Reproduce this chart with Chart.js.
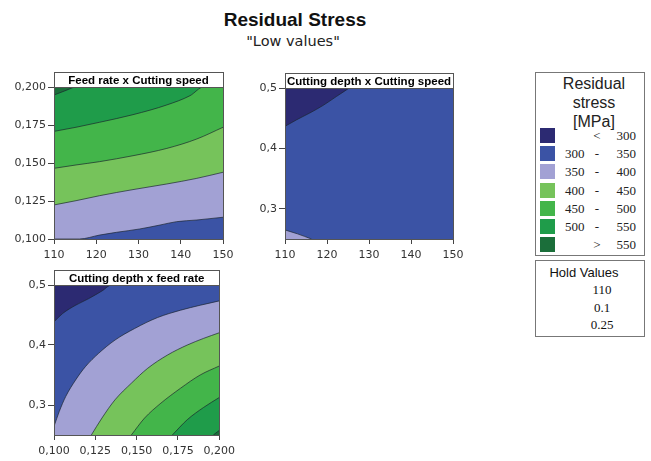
<!DOCTYPE html>
<html>
<head>
<meta charset="utf-8">
<script src="https://cdn.jsdelivr.net/npm/chart.js@4/dist/chart.umd.min.js"></script>
<style>
body { margin:0; width:651px; height:461px; background:#fff; position:relative; overflow:hidden; font-family:"Liberation Sans", Arial, sans-serif; color:#111; }
.cv { position:absolute; }
#title { position:absolute; left:145px; width:300px; top:9px; text-align:center; font:bold 19px "Liberation Sans", Arial, sans-serif; }
#subtitle { position:absolute; left:143px; width:300px; top:33px; text-align:center; font:14.5px "DejaVu Sans", sans-serif; color:#222; }
#legend { position:absolute; left:535px; top:72px; width:110px; height:184px; border:1px solid #777; box-sizing:border-box; }
#legend .head { position:absolute; left:8px; right:0; top:1px; text-align:center; font:16px "Liberation Sans", Arial, sans-serif; line-height:19px; color:#222; }
#legend .row { position:absolute; left:0; width:108px; height:15px; font:13px "Liberation Serif", serif; color:#222; }
#legend .sw { position:absolute; left:4px; top:0; width:15px; height:15px; }
#legend .lo { position:absolute; left:29px; top:0; line-height:15px; }
#legend .sym { position:absolute; left:55px; width:12px; text-align:center; top:0; line-height:15px; }
#legend .hi { position:absolute; right:8px; top:0; line-height:15px; }
#hold { position:absolute; left:535px; top:260px; width:110px; height:77px; border:1px solid #777; box-sizing:border-box; }
#hold div { position:absolute; left:0; width:100%; text-align:center; }
</style>
</head>
<body>
<div id="title">Residual Stress</div>
<div id="subtitle">"Low values"</div>
<canvas id="p1" class="cv" width="240" height="210" style="left:0;top:60px"></canvas>
<canvas id="p2" class="cv" width="240" height="210" style="left:240px;top:60px"></canvas>
<canvas id="p3" class="cv" width="240" height="206" style="left:0;top:255px"></canvas>
<div id="legend"></div>
<div id="hold"></div>
<script>
/*** Data ***/
const speedTicks = [110, 120, 130, 140, 150];
const feedTicks = [0.100, 0.125, 0.150, 0.175, 0.200];
const depthTicks = [0.3, 0.4, 0.5];
const levelLow = ['', '300', '350', '400', '450', '500', ''];
const levelSym = ['<', '-', '-', '-', '-', '-', '>'];
const levelHigh = ['300', '350', '400', '450', '500', '550', '550'];
const holdLabels = ['110', '0.1', '0.25'];

// Feed rate x Cutting speed  [speed, feed]
const fs350 = [[110, 0.1], [116, 0.1], [120.8, 0.1026], [124.8, 0.1044], [130.3, 0.1066], [135.1, 0.1092], [139, 0.1114], [143.8, 0.1125], [150, 0.1143]];
const fs400 = [[110, 0.1224], [115.2, 0.1252], [120.8, 0.1285], [128.7, 0.1325], [136.7, 0.1362], [143.8, 0.1399], [150, 0.1439]];
const fs450 = [[110, 0.1465], [115.2, 0.1487], [120.8, 0.1509], [128.7, 0.1548], [136.7, 0.1596], [143.8, 0.1658], [150, 0.1735]];
const fs500 = [[110, 0.1708], [115.2, 0.1735], [120.8, 0.1768], [128.7, 0.1818], [136.7, 0.1882], [142.2, 0.1943], [145.4, 0.2], [150, 0.2]];
const fs550 = [[110, 0.1947], [112.5, 0.1974], [114.8, 0.2]];

// Cutting depth x Cutting speed  [speed, depth]
const ds300 = [[110, 0.4365], [112.8, 0.4475], [115.9, 0.4586], [119.1, 0.4713], [122.3, 0.4862], [125.3, 0.5]];
const ds350 = [[110, 0.265], [113, 0.2585], [116.3, 0.25]];

// Cutting depth x feed rate  [feed, depth]
const df300 = [[0.1, 0.4386], [0.1052, 0.4524], [0.1131, 0.4663], [0.121, 0.4773], [0.129, 0.49], [0.1349, 0.5], [0.2, 0.5]];
const df350 = [[0.1, 0.2644], [0.1032, 0.2893], [0.1071, 0.3142], [0.1131, 0.3418], [0.119, 0.3639], [0.127, 0.3861], [0.1369, 0.4082], [0.1488, 0.4275], [0.1627, 0.4458], [0.1766, 0.458], [0.1885, 0.4663], [0.2, 0.4735]];
const df400 = [[0.1226, 0.25], [0.129, 0.2782], [0.1369, 0.3086], [0.1468, 0.3363], [0.1567, 0.3612], [0.1687, 0.3833], [0.1806, 0.3999], [0.1905, 0.411], [0.2, 0.4204]];
const df450 = [[0.1468, 0.25], [0.1548, 0.2782], [0.1647, 0.3031], [0.1766, 0.328], [0.1885, 0.3501], [0.2, 0.365]];
const df500 = [[0.1716, 0.25], [0.1806, 0.2754], [0.1905, 0.2959], [0.2, 0.3125]];
const df550 = [[0.1964, 0.25], [0.2, 0.2577]];

/*** Styles ***/
const colors = ['#2c2a72', '#3b53a5', '#a2a1d4', '#76c35b', '#43b54a', '#1f9c4a', '#1b6e3a'];
const lineColor = 'rgba(25,35,45,0.85)';
const tickFont = { family: 'DejaVu Sans', size: 11 };

const panelDecor = {
    id: 'panelDecor',
    beforeDatasetsDraw(chart, args, opts) {
        const a = chart.chartArea, ctx = chart.ctx;
        ctx.save();
        ctx.fillStyle = opts.base;
        ctx.fillRect(a.left, a.top, a.right - a.left, a.bottom - a.top);
        ctx.restore();
    },
    afterDraw(chart, args, opts) {
        const a = chart.chartArea, ctx = chart.ctx;
        ctx.save();
        ctx.strokeStyle = '#555';
        ctx.lineWidth = 1;
        ctx.strokeRect(Math.round(a.left) + 0.5, Math.round(a.top) + 0.5, Math.round(a.right - a.left), Math.round(a.bottom - a.top));
        const h = 15;
        const top = Math.round(a.top) - h;
        ctx.fillStyle = '#fff';
        ctx.fillRect(Math.round(a.left) + 0.5, top + 0.5, Math.round(a.right - a.left), h);
        ctx.strokeRect(Math.round(a.left) + 0.5, top + 0.5, Math.round(a.right - a.left), h);
        ctx.fillStyle = '#000';
        ctx.font = 'bold 11.5px "Liberation Sans", Arial, sans-serif';
        ctx.textAlign = 'center';
        ctx.textBaseline = 'middle';
        ctx.fillText(opts.title, (a.left + a.right) / 2, top + h / 2 + 1);
        ctx.restore();
    }
};

function toPts(arr) {
    return arr.map(p => ({ x: p[0], y: p[1] }));
}

function layer(arr, fill, color) {
    return { data: toPts(arr), fill: fill, backgroundColor: color, borderColor: lineColor, borderWidth: 0.8 };
}

function makePanel(id, cfg) {
    const datasets = cfg.layers.map((l, i) => Object.assign(l, {
        order: cfg.layers.length - i,
        pointRadius: 0,
        cubicInterpolationMode: 'monotone'
    }));
    const axisBase = {
        type: 'linear',
        grid: { drawOnChartArea: false, drawTicks: true, tickLength: 5, color: '#444' },
        border: { display: true, color: '#444' }
    };
    return new Chart(document.getElementById(id), {
        type: 'line',
        data: { datasets: datasets },
        plugins: [panelDecor],
        options: {
            responsive: false,
            animation: false,
            layout: { padding: cfg.pad },
            plugins: {
                legend: { display: false },
                tooltip: { enabled: false },
                panelDecor: { base: cfg.base, title: cfg.title }
            },
            scales: {
                x: Object.assign({}, axisBase, {
                    min: cfg.xMin, max: cfg.xMax,
                    afterBuildTicks: s => { s.ticks = cfg.xTicks.map(v => ({ value: v })); },
                    afterFit: s => { s.height = 24; },
                    ticks: { font: tickFont, color: '#333', padding: 5, maxRotation: 0, callback: cfg.fmtX }
                }),
                y: Object.assign({}, axisBase, {
                    min: cfg.yMin, max: cfg.yMax,
                    afterBuildTicks: s => { s.ticks = cfg.yTicks.map(v => ({ value: v })); },
                    afterFit: s => { s.width = cfg.yWidth; },
                    grid: { drawOnChartArea: false, drawTicks: true, tickLength: 6, color: '#444' },
                    ticks: { font: tickFont, color: '#333', padding: 2, callback: cfg.fmtY }
                })
            }
        }
    });
}

const fmt3 = v => v.toFixed(3).replace('.', ',');
const fmt1 = v => v.toFixed(1).replace('.', ',');
const fmt0 = v => String(v);

makePanel('p1', {
    title: 'Feed rate x Cutting speed', base: colors[1],
    xMin: 110, xMax: 150, yMin: 0.1, yMax: 0.2,
    xTicks: speedTicks, yTicks: feedTicks, fmtX: fmt0, fmtY: fmt3,
    yWidth: 54, pad: { top: 27, right: 17, bottom: 7, left: 0 },
    layers: [
        layer(fs350, 'end', colors[2]),
        layer(fs400, 'end', colors[3]),
        layer(fs450, 'end', colors[4]),
        layer(fs500, 'end', colors[5]),
        layer(fs550, 'end', colors[6])
    ]
});

makePanel('p2', {
    title: 'Cutting depth x Cutting speed', base: colors[1],
    xMin: 110, xMax: 150, yMin: 0.25, yMax: 0.5,
    xTicks: speedTicks, yTicks: depthTicks, fmtX: fmt0, fmtY: fmt1,
    yWidth: 45, pad: { top: 28, right: 27, bottom: 7, left: 0 },
    layers: [
        layer(ds300, 'end', colors[0]),
        layer(ds350, 'start', colors[2])
    ]
});

makePanel('p3', {
    title: 'Cutting depth x feed rate', base: colors[0],
    xMin: 0.1, xMax: 0.2, yMin: 0.25, yMax: 0.5,
    xTicks: feedTicks, yTicks: depthTicks, fmtX: fmt3, fmtY: fmt1,
    yWidth: 54, pad: { top: 30, right: 17, bottom: 2, left: 0 },
    layers: [
        layer(df300, 'start', colors[1]),
        layer(df350, 'start', colors[2]),
        layer(df400, 'start', colors[3]),
        layer(df450, 'start', colors[4]),
        layer(df500, 'start', colors[5]),
        layer(df550, 'start', colors[6])
    ]
});

/*** Legend ***/
function buildLegend() {
    const lg = document.getElementById('legend');
    const head = document.createElement('div');
    head.className = 'head';
    head.innerHTML = 'Residual<br>stress<br>[MPa]';
    lg.appendChild(head);
    levelHigh.forEach((hi, i) => {
        const row = document.createElement('div');
        row.className = 'row';
        row.style.top = (55 + i * 18.2) + 'px';
        row.innerHTML = '<div class="sw" style="background:' + colors[i] + '"></div>' +
            '<div class="lo">' + levelLow[i] + '</div>' +
            '<div class="sym">' + levelSym[i] + '</div>' +
            '<div class="hi">' + hi + '</div>';
        lg.appendChild(row);
    });
    const hold = document.getElementById('hold');
    const h = document.createElement('div');
    h.style.top = '4px';
    h.style.left = '-6px';
    h.style.font = '13px "Liberation Sans", Arial, sans-serif';
    h.textContent = 'Hold Values';
    hold.appendChild(h);
    holdLabels.forEach((t, i) => {
        const d = document.createElement('div');
        d.style.top = (21 + i * 17.5) + 'px';
        d.style.left = '12px';
        d.style.font = '13px "Liberation Serif", serif';
        d.textContent = t;
        hold.appendChild(d);
    });
}
buildLegend();
</script>
</body>
</html>
